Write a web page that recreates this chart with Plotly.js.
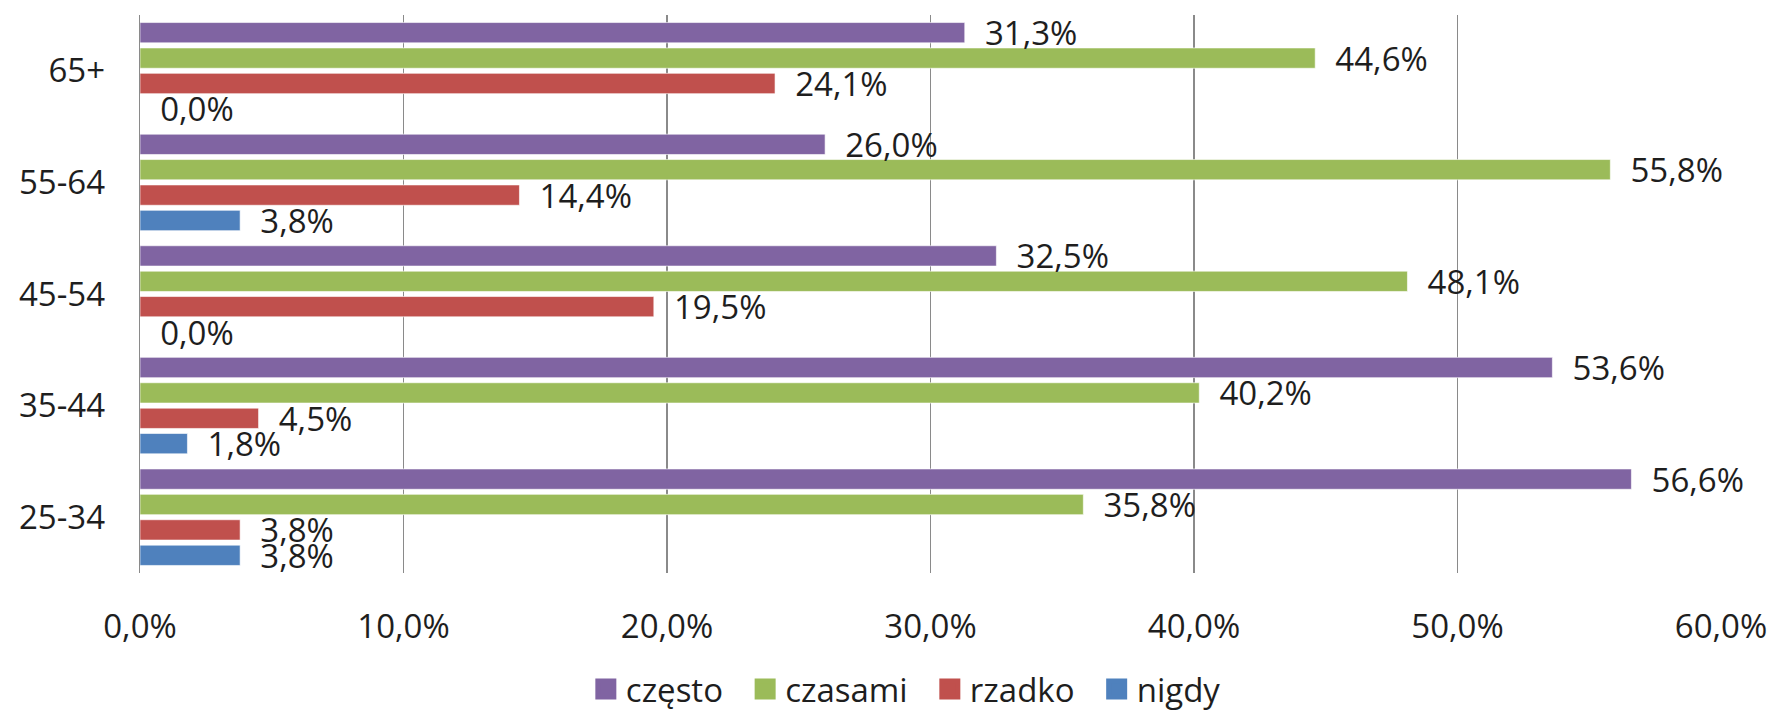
<!DOCTYPE html>
<html>
<head>
<meta charset="utf-8">
<script src="https://cdn.plot.ly/plotly-3.0.1.min.js"></script>
<style>html,body{margin:0;padding:0;background:#fff;}#chart{width:1771px;height:717px;}</style>
</head>
<body>
<div id="chart"></div>
<script>
const categories = ['25-34', '35-44', '45-54', '55-64', '65+'];
const czesto  = [56.6, 53.6, 32.5, 26.0, 31.3];
const czasami = [35.8, 40.2, 48.1, 55.8, 44.6];
const rzadko  = [3.8, 4.5, 19.5, 14.4, 24.1];
const nigdy   = [3.8, 1.8, 0.0, 3.8, 0.0];
const xTicks = [0, 10, 20, 30, 40, 50, 60];

// drawing order bottom-to-top inside each group
const series = [
  {name: 'nigdy', values: nigdy, color: '#4F81BD'},
  {name: 'rzadko', values: rzadko, color: '#C0504D'},
  {name: 'czasami', values: czasami, color: '#9BBB59'},
  {name: 'często', values: czesto, color: '#8064A2'}
];

const fontFamily = '"Open Sans", "Noto Sans", sans-serif';
const FS = 33;
const txtColor = '#1e1e1e';
const fmt = v => v.toFixed(1).replace('.', ',') + '%';

const barTraces = series.map(s => ({
  type: 'bar',
  orientation: 'h',
  name: s.name,
  y: categories,
  x: s.values.map(v => v / 100),
  text: s.values.map(v => '\u00a0\u00a0' + fmt(v)),
  textposition: 'outside',
  constraintext: 'none',
  cliponaxis: false,
  textfont: {family: fontFamily, size: FS, color: txtColor},
  marker: {color: s.color, line: {color: 'rgba(255,255,255,0.6)', width: 1}},
  showlegend: false,
  hoverinfo: 'none'
}));

// legend entries (larger square swatches), in legend order
const legendTraces = series.slice().reverse().map(s => ({
  type: 'scatter',
  mode: 'markers',
  name: s.name + '\u00a0\u00a0',
  x: [null],
  y: [null],
  marker: {symbol: 'square', size: 16, color: s.color, line: {color: s.color, width: 5}},
  showlegend: true,
  hoverinfo: 'none'
}));

const layout = {
  width: 1771,
  height: 717,
  margin: {l: 140, r: 50, t: 15, b: 144, autoexpand: false},
  paper_bgcolor: '#fff',
  plot_bgcolor: '#fff',
  barmode: 'group',
  bargap: 0.09,
  bargroupgap: 0.2,
  font: {family: fontFamily, size: FS, color: txtColor},
  xaxis: {
    range: [0, 0.6],
    tickvals: xTicks.map(v => v / 100),
    ticktext: xTicks.map(v => v.toFixed(1).replace('.', ',') + '%'),
    showgrid: true,
    gridcolor: '#8a8a8a',
    gridwidth: 1.3,
    zeroline: false,
    showline: false,
    ticks: 'outside',
    ticklen: 24,
    tickcolor: 'rgba(0,0,0,0)',
    tickfont: {family: fontFamily, size: FS, color: txtColor},
    automargin: false,
    fixedrange: true
  },
  yaxis: {
    type: 'category',
    categoryarray: categories,
    showgrid: false,
    zeroline: false,
    showline: true,
    linecolor: '#8a8a8a',
    linewidth: 1.3,
    ticks: 'outside',
    ticklen: 27,
    tickcolor: 'rgba(0,0,0,0)',
    tickfont: {family: fontFamily, size: FS, color: txtColor},
    automargin: false,
    fixedrange: true
  },
  showlegend: true,
  legend: {
    orientation: 'h',
    traceorder: 'normal',
    itemsizing: 'trace',
    x: 0.282,
    xanchor: 'left',
    y: -0.258,
    yanchor: 'bottom',
    borderwidth: 0,
    font: {family: fontFamily, size: FS, color: txtColor},
    itemclick: false,
    itemdoubleclick: false
  }
};

Plotly.newPlot('chart', barTraces.concat(legendTraces), layout, {displayModeBar: false, staticPlot: true});
</script>
</body>
</html>
